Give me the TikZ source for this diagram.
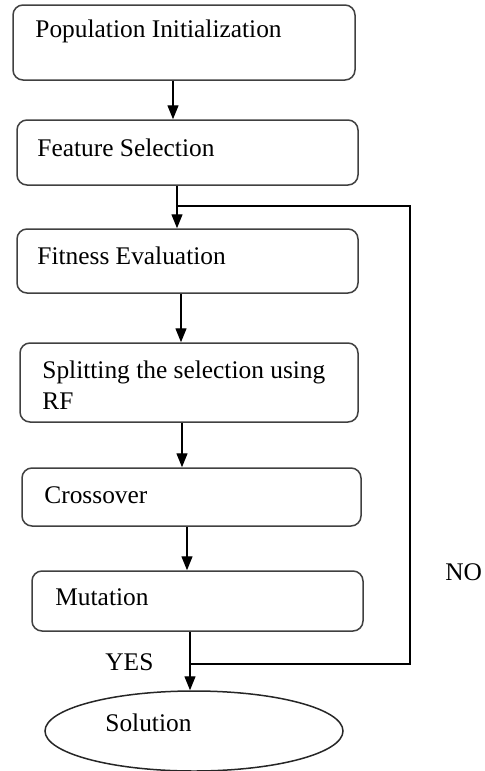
\documentclass[tikz,border=0pt]{standalone}
\usepackage{fontspec}
\setmainfont{Liberation Serif}
\usetikzlibrary{arrows.meta,shapes.geometric}
\begin{document}
\begin{tikzpicture}[x=0.5pt,y=-0.5pt,
  box/.style={draw=black!75,line width=0.75pt,rounded corners=5pt,inner sep=0pt},
  oval/.style={draw=black!85,line width=0.75pt,ellipse,inner sep=0pt},
  txt/.style={anchor=west,inner sep=0pt,font=\fontsize{12.7}{15.2}\selectfont,align=left},
  arr/.style={draw=black,line width=0.7pt,-{Triangle[length=7pt,width=5.5pt]}},
  ln/.style={draw=black,line width=0.7pt}]
\useasboundingbox (0,0) rectangle (485,771);
\node[box,minimum width=171pt,minimum height=37.5pt] (b1) at (184,42.5) {};
\node[box,minimum width=170.5pt,minimum height=32.5pt] (b2) at (187.5,152.5) {};
\node[box,minimum width=170.5pt,minimum height=32pt] (b3) at (187.5,261) {};
\node[box,minimum width=169pt,minimum height=39.5pt] (b4) at (189,382.5) {};
\node[box,minimum width=169.5pt,minimum height=29pt] (b5) at (191.5,497) {};
\node[box,minimum width=165.5pt,minimum height=30pt] (b6) at (197.5,601) {};
\node[oval,minimum width=149pt,minimum height=40pt] (sol) at (194,731) {};
\node[txt] (t1) at (35,31) {Population Initialization};
\node[txt] (t2) at (37,148) {Feature Selection};
\node[txt] (t3) at (37,256) {Fitness Evaluation};
\node[txt] (t4) at (42,385) {Splitting the selection using\\RF};
\node[txt] (t5) at (44,495) {Crossover};
\node[txt] (t6) at (55,597) {Mutation};
\node[txt] (ts) at (105,723) {Solution};
\node[txt] (yes) at (105,662) {YES};
\node[txt] (no) at (445,572) {NO};
\draw[arr] (b1.south -| 173,0) -- (b2.north -| 173,0);
\draw[arr] (b2.south -| 177,0) -- (b3.north -| 177,0);
\draw[arr] (b3.south -| 181,0) -- (b4.north -| 181,0);
\draw[arr] (b4.south -| 182,0) -- (b5.north -| 182,0);
\draw[arr] (b5.south -| 187,0) -- (b6.north -| 187,0);
\draw[arr] (b6.south -| 190,0) -- (sol.north -| 190,0);
\coordinate (j1) at (190,664);
\coordinate (j2) at (177,206);
\coordinate (c1) at (410,664);
\coordinate (c2) at (410,206);
\draw[ln] (j1) -- (c1) -- (c2) -- (j2);
\end{tikzpicture}
\end{document}
